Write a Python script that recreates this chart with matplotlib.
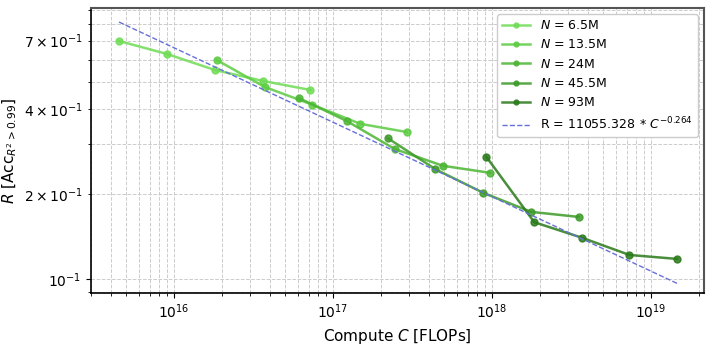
import matplotlib
matplotlib.use("Agg")
import matplotlib.pyplot as plt
import matplotlib.ticker as mticker
import numpy as np

labels = ["$N$ = 6.5M", "$N$ = 13.5M", "$N$ = 24M", "$N$ = 45.5M", "$N$ = 93M"]
compute = [
    [4.5e15, 9.0e15, 1.8e16, 3.6e16, 7.2e16],
    [1.85e16, 3.7e16, 7.4e16, 1.48e17, 2.9e17],
    [6.1e16, 1.22e17, 2.44e17, 4.9e17, 9.7e17],
    [2.2e17, 4.4e17, 8.8e17, 1.76e18, 3.5e18],
    [9.2e17, 1.84e18, 3.68e18, 7.3e18, 1.46e19],
]
R = [
    [0.698, 0.628, 0.551, 0.504, 0.468],
    [0.598, 0.480, 0.415, 0.355, 0.332],
    [0.438, 0.363, 0.289, 0.252, 0.238],
    [0.316, 0.245, 0.202, 0.173, 0.166],
    [0.271, 0.159, 0.140, 0.1217, 0.1178],
]
colors = ["#6fdc55", "#5ccc42", "#4cb534", "#3c9a28", "#2a7a1a"]
fit_a = 11055.328
fit_b = -0.264
ytick_minor_labels = {2: r"$2\times10^{-1}$", 4: r"$4\times10^{-1}$", 7: r"$7\times10^{-1}$"}

fig = plt.figure(figsize=(7.14, 3.47), dpi=100)
ax = fig.add_axes([0.1275, 0.1556, 0.8585, 0.8214])

for c, r, lab, col in zip(compute, R, labels, colors):
    ax.plot(c, r, "-o", color=col, alpha=0.85, lw=1.8, ms=5, label=lab)

cmin = min(min(c) for c in compute)
cmax = max(max(c) for c in compute)
cf = np.logspace(np.log10(cmin), np.log10(cmax), 100)
ax.plot(cf, fit_a * cf ** fit_b, "--", color="#6670d8", lw=1.0,
        label=r"R = 11055.328$\,*\,C^{-0.264}$")

ax.set_xscale("log")
ax.set_yscale("log")
ax.set_xlim(3.0e15, 2.15e19)
ax.set_ylim(0.0892, 0.914)


def minor_fmt(v, pos):
    m = int(round(v / 10 ** np.floor(np.log10(v) + 1e-9)))
    if abs(np.log10(v) - np.log10(m * 0.1)) < 1e-6 and m in ytick_minor_labels:
        return ytick_minor_labels[m]
    return ""


ax.yaxis.set_minor_formatter(mticker.FuncFormatter(minor_fmt))

ax.grid(True, which="both", ls="--", color="#cccccc", lw=0.7)
ax.set_xlabel("Compute $C$ [FLOPs]", fontsize=11)
ax.set_ylabel(r"$R$ [Acc$_{R^2>0.99}$]", fontsize=11)
ax.tick_params(which="both", labelsize=10)

for s in ["left", "bottom"]:
    ax.spines[s].set_color("black")
    ax.spines[s].set_linewidth(1.2)
for s in ["top", "right"]:
    ax.spines[s].set_color("#555555")
    ax.spines[s].set_linewidth(1.5)

ax.legend(loc="upper right", fontsize=9, framealpha=1.0, edgecolor="#cccccc",
          handlelength=2.2, markerscale=0.7)

fig.savefig("out.png", dpi=100)
